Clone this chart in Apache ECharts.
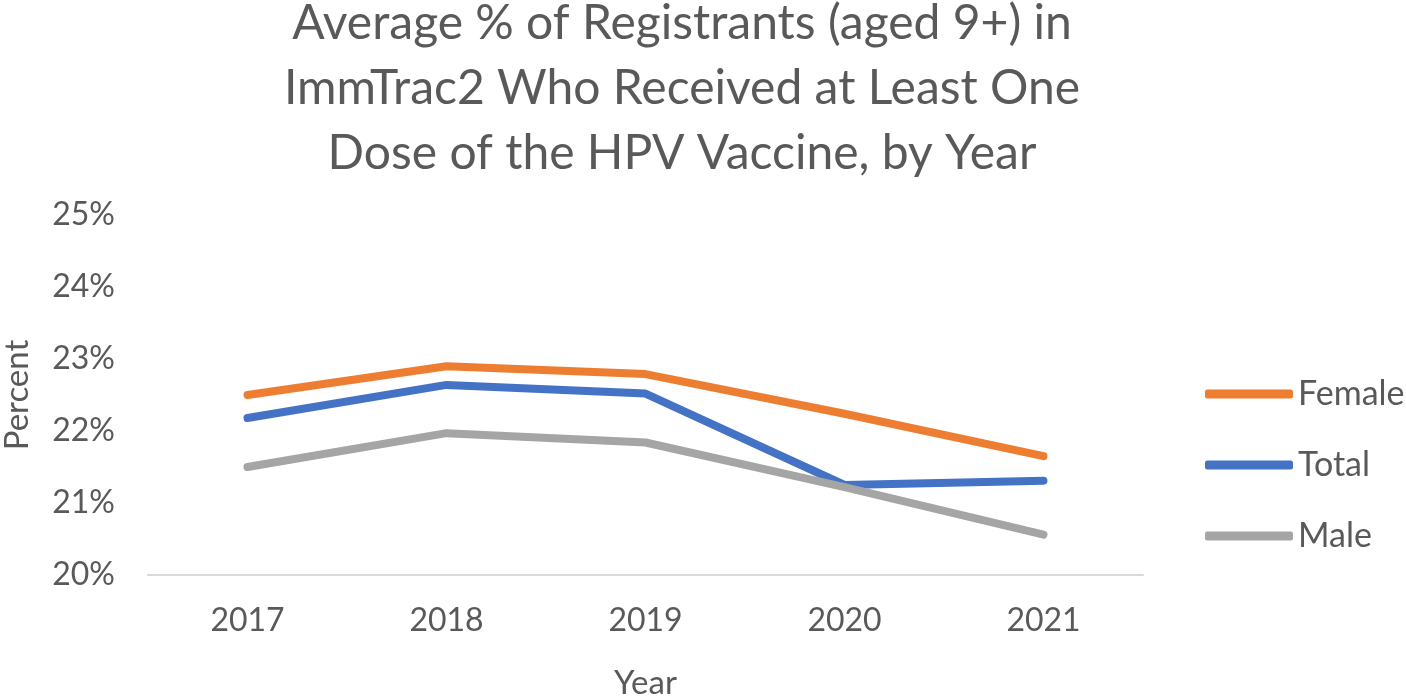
<!doctype html>
<html lang="en">
<head>
<meta charset="utf-8">
<title>HPV vaccine by year</title>
<script src="https://cdn.jsdelivr.net/npm/echarts@6/dist/echarts.min.js"></script>
<style>
    html, body { margin: 0; padding: 0; background: #fff; }
    #chart { width: 1406px; height: 699px; }
</style>
</head>
<body>
<div id="chart"></div>
<script>
    // values (percent)
    let years = ['2017', '2018', '2019', '2020', '2021'];
    let female = [22.50, 22.90, 22.79, 22.24, 21.65];
    let total = [22.18, 22.64, 22.52, 21.25, 21.31];
    let male = [21.50, 21.97, 21.84, 21.22, 20.56];
    let yTicks = [20, 21, 22, 23, 24, 25];

    let fontName = 'Lato';
    let txt = '#595959';

    let chart = echarts.init(document.getElementById('chart'));

    function lineSeries(name, data, color) {
        return {
            name: name,
            type: 'line',
            data: data,
            symbol: 'none',
            lineStyle: {width: 8, color: color, cap: 'round', join: 'round'},
            itemStyle: {color: color},
            animation: false
        };
    }

    chart.setOption({
        backgroundColor: '#fff',
        textStyle: {fontFamily: fontName},
        title: {
            text: 'Average % of Registrants (aged 9+) in\nImmTrac2 Who Received at Least One\nDose of the HPV Vaccine, by Year',
            left: 677,
            textAlign: 'center',
            top: -14,
            textStyle: {fontSize: 48, fontWeight: 'normal', color: txt, lineHeight: 65, fontFamily: fontName}
        },
        legend: {
            orient: 'vertical',
            left: 1200,
            top: 372,
            itemWidth: 88,
            itemHeight: 9,
            itemGap: 37,
            icon: 'roundRect',
            textStyle: {fontSize: 34, color: txt, lineHeight: 34, fontFamily: fontName},
            data: ['Female', 'Total', 'Male']
        },
        grid: {left: 148, right: 263, top: 215, bottom: 124, outerBoundsMode: 'none', containLabel: false},
        xAxis: {
            type: 'category',
            data: years,
            boundaryGap: true,
            name: 'Year',
            nameLocation: 'middle',
            nameGap: 92,
            nameTextStyle: {fontSize: 33, color: txt},
            axisLine: {lineStyle: {color: '#d9d9d9', width: 2}},
            axisTick: {show: false},
            axisLabel: {fontSize: 32, color: txt, margin: 30}
        },
        yAxis: {
            type: 'value',
            min: yTicks[0],
            max: yTicks[yTicks.length - 1],
            interval: 1,
            name: 'Percent',
            nameLocation: 'middle',
            nameRotate: 90,
            nameGap: 114,
            nameTextStyle: {fontSize: 33, color: txt},
            axisLine: {show: false},
            axisTick: {show: false},
            splitLine: {show: false},
            axisLabel: {fontSize: 32, color: txt, margin: 33, formatter: '{value}%'}
        },
        series: [
            lineSeries('Female', female, '#ED7D31'),
            lineSeries('Total', total, '#4472C4'),
            lineSeries('Male', male, '#A5A5A5')
        ]
    });
</script>
</body>
</html>
